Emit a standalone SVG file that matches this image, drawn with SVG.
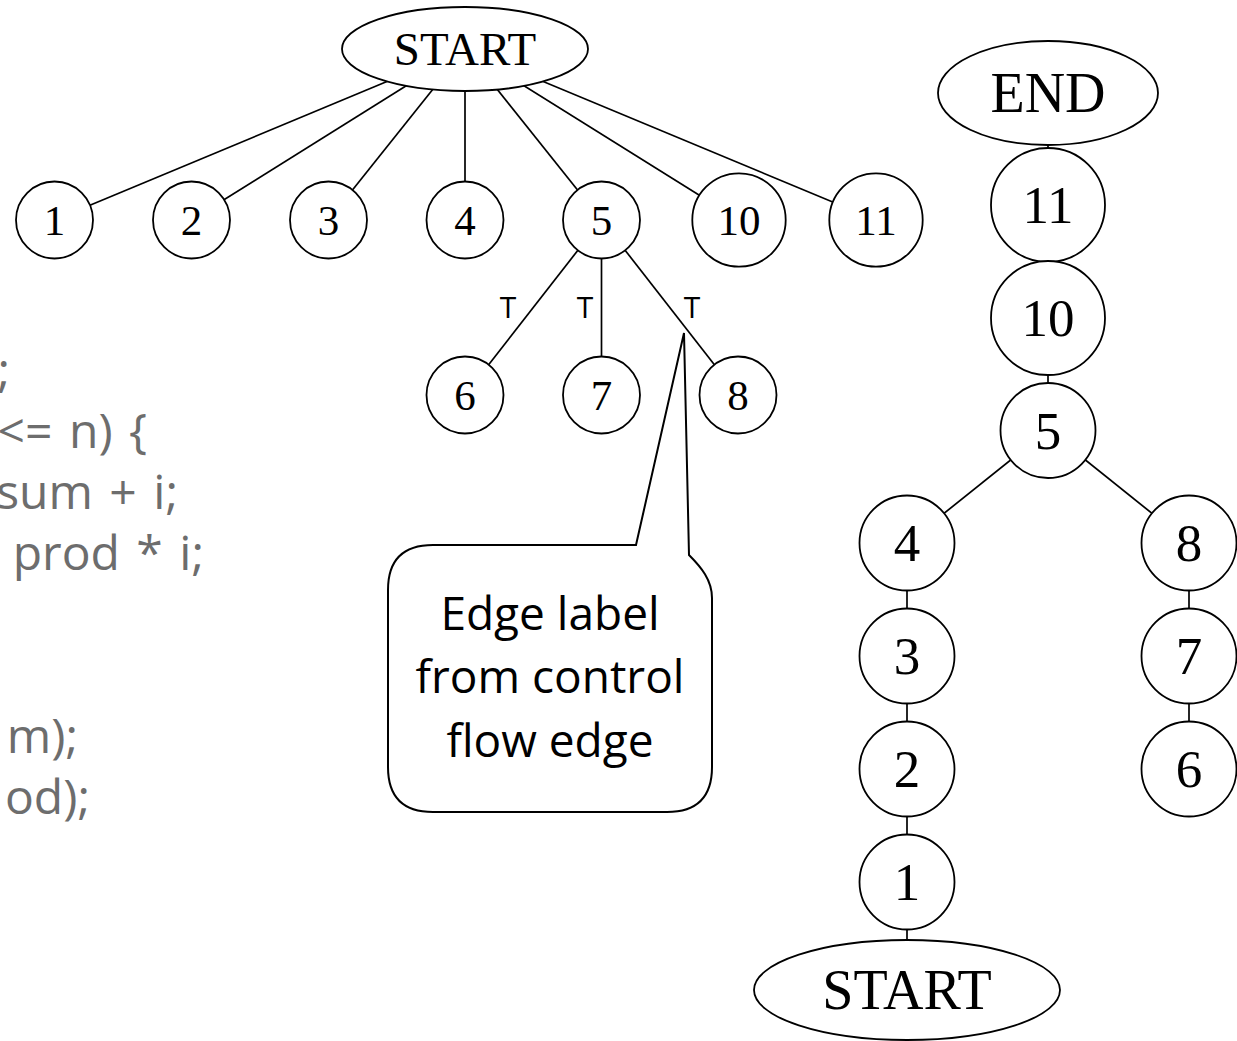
<svg xmlns="http://www.w3.org/2000/svg" width="1237" height="1041" viewBox="0 0 1237 1041">
<style>
.n{fill:#fff;stroke:#000;stroke-width:1.8}
.e{stroke:#000;stroke-width:1.7;fill:none}
.t{font-family:"Liberation Serif",serif;font-size:43px;text-anchor:middle;fill:#000}
.ts{font-family:"Liberation Serif",serif;font-size:47px;text-anchor:middle;fill:#000}
.tb{font-family:"Liberation Serif",serif;font-size:53px;text-anchor:middle;fill:#000}
.tw{font-family:"Liberation Serif",serif;font-size:56px;text-anchor:middle;fill:#000}
.code{font-family:"Open Sans","Liberation Sans",sans-serif;font-size:48px;fill:#6d6d6d;text-anchor:end;word-spacing:4px}
.lab{font-family:"Open Sans","Liberation Sans",sans-serif;font-size:30px;fill:#000;text-anchor:middle}
.cl{font-family:"Open Sans","Liberation Sans",sans-serif;font-size:46px;fill:#000;text-anchor:middle}
</style>
<rect width="1237" height="1041" fill="#fff"/>
<g id="code">
<text class="code" x="10" y="387">;</text>
<text class="code" x="147" y="448">&lt;= n) {</text>
<text class="code" x="178" y="509">sum + i;</text>
<text class="code" x="204" y="570">prod * i;</text>
<text class="code" x="78" y="753">m);</text>
<text class="code" x="90" y="814">od);</text>
</g>
<g id="connectors">
<line class="e" x1="465" y1="49" x2="54.5" y2="220"/>
<line class="e" x1="465" y1="49" x2="191.5" y2="220"/>
<line class="e" x1="465" y1="49" x2="328.5" y2="220"/>
<line class="e" x1="465" y1="49" x2="465" y2="220"/>
<line class="e" x1="465" y1="49" x2="601.5" y2="220"/>
<line class="e" x1="465" y1="49" x2="739" y2="220"/>
<line class="e" x1="465" y1="49" x2="876" y2="220"/>
<line class="e" x1="601.5" y1="220" x2="465" y2="395"/>
<line class="e" x1="601.5" y1="220" x2="601.5" y2="395"/>
<line class="e" x1="601.5" y1="220" x2="738" y2="395"/>
<line class="e" x1="1048" y1="93" x2="1048" y2="430"/>
<line class="e" x1="1048" y1="430" x2="907" y2="543"/>
<line class="e" x1="1048" y1="430" x2="1189" y2="543"/>
<line class="e" x1="907" y1="543" x2="907" y2="990"/>
<line class="e" x1="1189" y1="543" x2="1189" y2="769"/>
</g>
<g id="edge-labels">
<text class="lab" x="508" y="318">T</text>
<text class="lab" x="585" y="318">T</text>
<text class="lab" x="692" y="318">T</text>
</g>
<g id="top-start"><ellipse class="n" cx="465" cy="49" rx="123" ry="42"/><text class="ts" x="465" y="65">START</text></g>
<g id="top-1"><circle class="n" cx="54.5" cy="220" r="38.5"/><text class="t" x="54.5" y="234.5">1</text></g>
<g id="top-2"><circle class="n" cx="191.5" cy="220" r="38.5"/><text class="t" x="191.5" y="234.5">2</text></g>
<g id="top-3"><circle class="n" cx="328.5" cy="220" r="38.5"/><text class="t" x="328.5" y="234.5">3</text></g>
<g id="top-4"><circle class="n" cx="465" cy="220" r="38.5"/><text class="t" x="465" y="234.5">4</text></g>
<g id="top-5"><circle class="n" cx="601.5" cy="220" r="38.5"/><text class="t" x="601.5" y="234.5">5</text></g>
<g id="top-10"><circle class="n" cx="739" cy="220" r="46.7"/><text class="t" x="739" y="234.5">10</text></g>
<g id="top-11"><circle class="n" cx="876" cy="220" r="46.7"/><text class="t" x="876" y="234.5">11</text></g>
<g id="top-6"><circle class="n" cx="465" cy="395" r="38.5"/><text class="t" x="465" y="409.5">6</text></g>
<g id="top-7"><circle class="n" cx="601.5" cy="395" r="38.5"/><text class="t" x="601.5" y="409.5">7</text></g>
<g id="top-8"><circle class="n" cx="738" cy="395" r="38.5"/><text class="t" x="738" y="409.5">8</text></g>
<g id="r-end"><ellipse class="n" cx="1048" cy="93" rx="110" ry="52"/><text class="tw" x="1048" y="112">END</text></g>
<g id="r-11"><circle class="n" cx="1048" cy="205" r="57"/><text class="tb" x="1048" y="223">11</text></g>
<g id="r-10"><circle class="n" cx="1048" cy="318" r="57"/><text class="tb" x="1048" y="336">10</text></g>
<g id="r-5"><circle class="n" cx="1048" cy="430.5" r="47.5"/><text class="tb" x="1048" y="448.5">5</text></g>
<g id="r-4"><circle class="n" cx="907" cy="543" r="47.5"/><text class="tb" x="907" y="561">4</text></g>
<g id="r-3"><circle class="n" cx="907" cy="656" r="47.5"/><text class="tb" x="907" y="674">3</text></g>
<g id="r-2"><circle class="n" cx="907" cy="769" r="47.5"/><text class="tb" x="907" y="787">2</text></g>
<g id="r-1"><circle class="n" cx="907" cy="882" r="47.5"/><text class="tb" x="907" y="900">1</text></g>
<g id="r-start"><ellipse class="n" cx="907" cy="990" rx="153" ry="50"/><text class="tw" x="907" y="1009">START</text></g>
<g id="r-8"><circle class="n" cx="1189" cy="543" r="47.5"/><text class="tb" x="1189" y="561">8</text></g>
<g id="r-7"><circle class="n" cx="1189" cy="656" r="47.5"/><text class="tb" x="1189" y="674">7</text></g>
<g id="r-6"><circle class="n" cx="1189" cy="769" r="47.5"/><text class="tb" x="1189" y="787">6</text></g>
<g id="callout">
<path d="M433,545 L636,545 L684,333 L689,555 C701,567 712,580 712,598 L712,767 Q712,812 667,812 L433,812 Q388,812 388,767 L388,590 Q388,545 433,545 Z" fill="#fff" stroke="#000" stroke-width="2"/>
<text class="cl" x="550" y="630">Edge label</text>
<text class="cl" x="550" y="693">from control</text>
<text class="cl" x="550" y="757">flow edge</text>
</g>
</svg>
